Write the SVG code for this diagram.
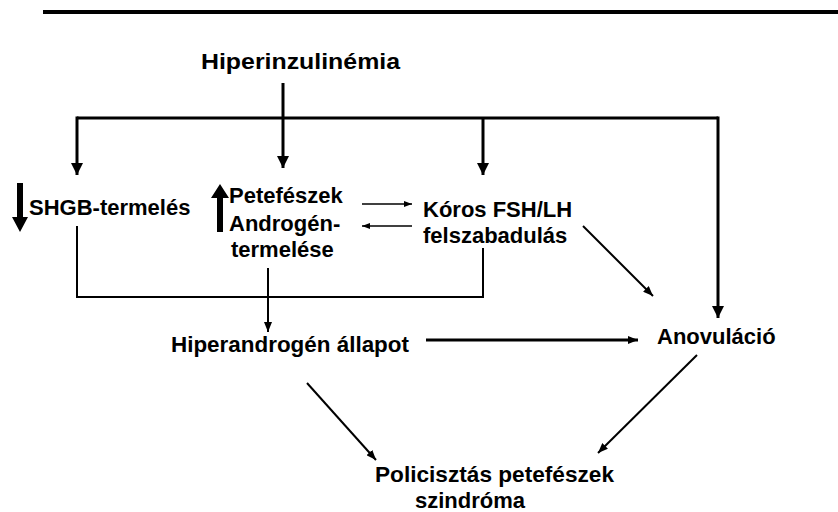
<svg xmlns="http://www.w3.org/2000/svg" width="838" height="512" viewBox="0 0 838 512">
<style>
text{font-family:"Liberation Sans",Arial,sans-serif;font-weight:bold;font-size:22px;fill:#000}
.c{fill:none;stroke:#000;stroke-linejoin:miter}
.bus{stroke-width:3}
.med{stroke-width:2}
.thin{stroke-width:1.5}
</style>
<defs>
<marker id="ah" markerUnits="userSpaceOnUse" markerWidth="12" markerHeight="12" refX="10" refY="5" orient="auto" viewBox="0 0 10 10"><path d="M0,0L10,5L0,10z" fill="#000"/></marker>
<marker id="am" markerUnits="userSpaceOnUse" markerWidth="10" markerHeight="8" refX="10" refY="4" orient="auto" viewBox="0 0 10 8"><path d="M0,0L10,4L0,8z" fill="#000"/></marker>
<marker id="at" markerUnits="userSpaceOnUse" markerWidth="8" markerHeight="6" refX="8" refY="3" orient="auto" viewBox="0 0 8 6"><path d="M0,0L8,3L0,6z" fill="#000"/></marker>
</defs>
<rect width="838" height="512" fill="#fff"/>
<line x1="43" y1="12" x2="838" y2="12" stroke="#000" stroke-width="4"/>
<g id="n-hiperinzulinemia"><text x="201" y="69" font-size="23" textLength="199" lengthAdjust="spacingAndGlyphs">Hiperinzulinémia</text></g>
<g id="n-shgb">
<polygon points="17,183 23,183 23,217 28,217 20,232 12,217 17,217" fill="#000"/>
<text x="29" y="215">SHGB-termelés</text>
</g>
<g id="n-petefeszek">
<polygon points="220,184 229,198 223,198 223,232 217,232 217,198 211,198" fill="#000"/>
<text x="229" y="203">Petefészek</text>
<text x="229" y="231">Androgén-</text>
<text x="231" y="257">termelése</text>
</g>
<g id="n-koros">
<text x="423" y="217">Kóros FSH/LH</text>
<text x="423" y="243">felszabadulás</text>
</g>
<g id="n-hiperandrogen"><text x="171" y="352" textLength="238" lengthAdjust="spacingAndGlyphs">Hiperandrogén állapot</text></g>
<g id="n-anovulacio"><text x="657" y="344">Anovuláció</text></g>
<g id="n-pcos">
<text x="375" y="482" textLength="239" lengthAdjust="spacingAndGlyphs">Policisztás petefészek</text>
<text x="415" y="508">szindróma</text>
</g>
<g id="connectors">
<polyline class="c bus" points="77,118 718,118"/>
<line class="c bus" x1="77" y1="116.5" x2="77" y2="175" marker-end="url(#ah)"/>
<line class="c bus" x1="483" y1="118" x2="483" y2="175" marker-end="url(#ah)"/>
<line class="c bus" x1="718" y1="116.5" x2="718" y2="318" marker-end="url(#ah)"/>
<line class="c bus" x1="283" y1="83" x2="283" y2="168" marker-end="url(#ah)"/>
<line class="c thin" x1="362" y1="204" x2="412" y2="204" marker-end="url(#at)"/>
<line class="c thin" x1="412" y1="226" x2="362" y2="226" marker-end="url(#at)"/>
<polyline class="c med" points="77,226 77,297 483,297 483,248"/>
<line class="c med" x1="268" y1="268" x2="268" y2="332" marker-end="url(#am)"/>
<line class="c med" x1="583" y1="226" x2="653" y2="296" marker-end="url(#am)"/>
<line class="c bus" x1="426" y1="340" x2="638" y2="340" stroke-width="2.5" marker-end="url(#am)"/>
<line class="c med" x1="307" y1="383" x2="376" y2="460" marker-end="url(#am)"/>
<line class="c med" x1="697" y1="355" x2="598" y2="453" marker-end="url(#am)"/>
</g>
</svg>
